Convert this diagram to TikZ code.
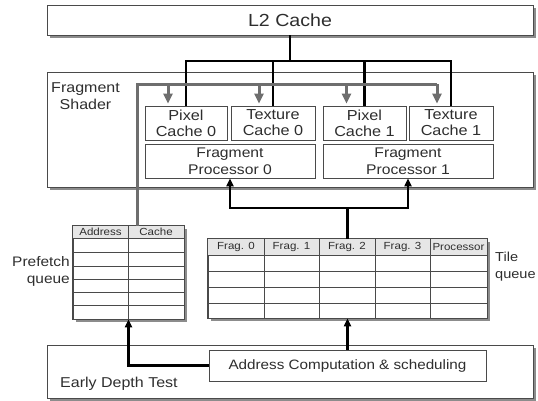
\documentclass[tikz,border=0pt]{standalone}
\usepackage{fontspec}
\setmainfont{Liberation Sans}[FakeStretch=1.12]
\usetikzlibrary{shadows,arrows.meta,calc}

\definecolor{txt}{HTML}{2E2E2E}
\definecolor{edge}{HTML}{4A4A4A}
\definecolor{shade}{HTML}{8C8C8C}
\definecolor{feed}{HTML}{6E6E6E}
\definecolor{head}{HTML}{E6E6E6}

\begin{document}
\begin{tikzpicture}
    [
      x=1pt, y=-1pt,
      every node/.style={text=txt},
      block/.style={draw=edge, line width=0.8pt, fill=white, inner sep=0pt, minimum width=#1},
      shadowed/.style={drop shadow={shadow xshift=3pt, shadow yshift=-3pt, fill=shade, opacity=1}},
      big/.style={block=486pt, shadowed},
      unit/.style={block=#1, minimum height=34pt, align=center, font=\fontsize{14.5}{16}\selectfont},
      tag/.style={inner sep=0pt, font=\fontsize{14.3}{17}\selectfont},
      cell/.style={inner sep=0pt, font=\fontsize{10.3}{12}\selectfont},
      wire/.style={line width=2.5pt},
      bus/.style={wire, -{Triangle[length=8pt,width=7pt]}},
      fetch line/.style={draw=feed, line width=3pt},
      fetch/.style={fetch line, -{Triangle[length=10pt,width=9pt]}}
    ]
    \useasboundingbox (0,0) rectangle (538,400);
    % main blocks
    \node (l2) [big, minimum height=30pt, font=\fontsize{17.5}{20}\selectfont] at (290,20) {L2 Cache};
    \node (fs) [big, minimum height=115pt] at (290,129.5) {};
    \node (edt) [big, minimum height=53pt] at (290,371.5) {};
    \node [tag, align=center] at (85.5,96) {Fragment\\Shader};
    \node [tag, anchor=west] at (60,384) {Early Depth Test};
    % caches and processors
    \node (pc0) [unit=82pt] at (186,123) {Pixel\\Cache 0};
    \node (tc0) [unit=84pt] at (273,123) {Texture\\Cache 0};
    \node (pc1) [unit=83pt] at (364.5,123) {Pixel\\Cache 1};
    \node (tc1) [unit=84pt] at (451,123) {Texture\\Cache 1};
    \node (fp0) [unit=170pt, font=\fontsize{14}{17}\selectfont] at (230,161) {Fragment\\Processor 0};
    \node (fp1) [unit=170pt, font=\fontsize{14}{17}\selectfont] at (408,161) {Fragment\\Processor 1};
    \node (addr) [unit=277pt, minimum height=31pt, font=\fontsize{13.6}{17}\selectfont] at (347.5,365.5) {Address Computation \& scheduling};
    % prefetch queue
    \node (pq) [block=111pt, minimum height=93pt, shadowed] at (128.5,272.5) {};
    \fill [head] (pq.north west) rectangle (184,238);
    \foreach \r in {238,252,266,279,292,305}
      \draw [edge, line width=0.8pt] (73,\r) -- (184,\r);
    \draw [edge, line width=0.8pt] (pq.north) -- (pq.south);
    \draw [edge, line width=0.8pt] (pq.north west) rectangle (pq.south east);
    \node [cell] at (100.5,232) {Address};
    \node [cell] at (156,232) {Cache};
    \node [tag, anchor=east, align=right, font=\fontsize{13.8}{17}\selectfont] at (70,271.5) {Prefetch\\queue};
    % tile queue
    \node (tq) [block=279pt, minimum height=79pt, shadowed] at (347.5,278.5) {};
    \fill [head] (tq.north west) rectangle (487,255);
    \foreach \r in {255,271,287,303}
      \draw [edge, line width=0.8pt] (208,\r) -- (487,\r);
    \foreach \c in {264,319,375,430}
      \draw [edge, line width=0.8pt] (\c,239) -- (\c,318);
    \draw [edge, line width=0.8pt] (tq.north west) rectangle (tq.south east);
    \foreach \x/\t in {236/Frag. 0,291.5/Frag. 1,347/Frag. 2,402.5/Frag. 3,458.5/Processor}
      \node [cell] at (\x,247) {\t};
    \node [tag, anchor=west, align=left, font=\fontsize{13}{17}\selectfont] at (495,266.5) {Tile\\queue};
    % L2 bus
    \coordinate (bus) at (290,61);
    \draw [wire] (l2.south) -- (bus);
    \draw [wire] (pc0.north) -- (pc0.north |- bus) -- (tc1.north |- bus) -- (tc1.north);
    \foreach \u in {tc0,pc1}
      \draw [wire] (\u.north |- bus) -- (\u.north);
    % prefetch feed
    \coordinate (feed) at (137,84);
    \draw [fetch line] (feed |- pq.north) -- (feed) -- ([xshift=-14pt]tc1.north |- feed);
    \foreach \u/\d in {pc0/-18,tc0/-14,pc1/-18,tc1/-14}
      \draw [fetch] ([xshift=\d pt]\u.north |- feed) -- ([xshift=\d pt, yshift=2pt]\u.north);
    % tile queue to processors
    \coordinate (split) at (347.5,208);
    \draw [wire] (tq.north) -- (split);
    \draw [bus] (split) -| (fp0.south);
    \draw [bus] (split) -| (fp1.south);
    % scheduling outputs
    \draw [bus] (addr.west) -| (pq.south);
    \draw [bus] (addr.north) -- (tq.south);
\end{tikzpicture}
\end{document}
